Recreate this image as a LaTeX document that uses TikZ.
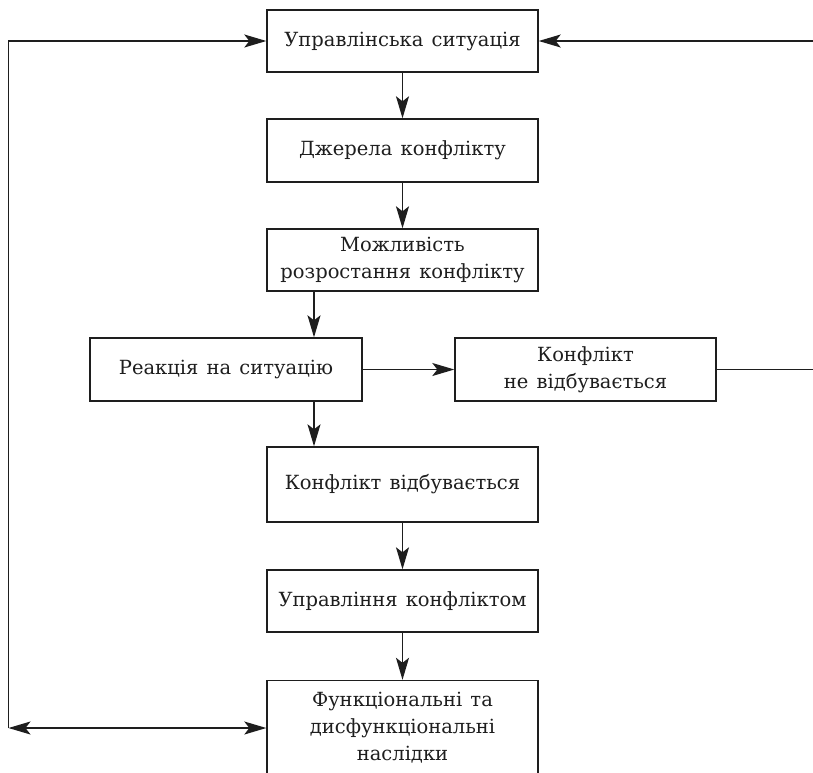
\documentclass[tikz,border=0pt]{standalone}
\usepackage{fontspec}
\setmainfont{DejaVu Serif}
\usetikzlibrary{arrows.meta}
\definecolor{ink}{HTML}{1E1E1E}
\newcommand\myboxfont{\fontsize{19.5}{27}\selectfont\spaceskip=0.42em plus 0.1em\relax}
\begin{document}
\begin{tikzpicture}[x=1pt,y=-1pt,
  box/.style={draw=ink,line width=1.4pt,text=ink,align=center,inner sep=0pt,
    font=\myboxfont},
  conn/.style={draw=ink,line width=1.4pt},
  arr/.style={conn,-{Stealth[length=22pt,width=13pt,inset=5pt]}},
  darr/.style={conn,{Stealth[length=22pt,width=13pt,inset=5pt]}-{Stealth[length=22pt,width=13pt,inset=5pt]}}]
\useasboundingbox (0,0) rectangle (813,772);
\fill[white] (0,0) rectangle (813,772);
\node[box,minimum width=271pt,minimum height=62pt] (b1) at (402.5,41) {Управлінська ситуація};
\node[box,minimum width=271pt,minimum height=63pt] (b2) at (402.5,150.5) {Джерела конфлікту};
\node[box,minimum width=271pt,minimum height=62pt] (b3) at (402.5,260) {Можливість\\розростання конфлікту};
\node[box,minimum width=272pt,minimum height=63pt] (b4) at (226,369.5) {Реакція на ситуацію};
\node[box,minimum width=261pt,minimum height=63pt] (b5) at (585.5,369.5) {Конфлікт\\не відбувається};
\node[box,minimum width=271pt,minimum height=75pt] (b6) at (402.5,484.5) {Конфлікт відбувається};
\node[box,minimum width=271pt,minimum height=62pt] (b7) at (402.5,601) {Управління конфліктом};
\node[box,minimum width=271pt,minimum height=95pt] (b8) at (402.5,728) {Функціональні та\\дисфункціональні\\наслідки};
\coordinate (xa) at (314,0);
\coordinate (cl) at (8.5,728);
\coordinate (cr) at (816,0);
\draw[arr] (b1) -- (b2);
\draw[arr] (b2) -- (b3);
\draw[arr] (b3.south -| xa) -- (b4.north -| xa);
\draw[arr] (b4) -- (b5);
\draw[arr] (b4.south -| xa) -- (b6.north -| xa);
\draw[arr] (b6) -- (b7);
\draw[arr] (b7) -- (b8);
\draw[arr] (b5.east) -- (b5.east -| cr) |- (b1.east);
\draw[arr] (cl) |- (b1.west);
\draw[darr] (cl) -- (b8.west);
\end{tikzpicture}
\end{document}
